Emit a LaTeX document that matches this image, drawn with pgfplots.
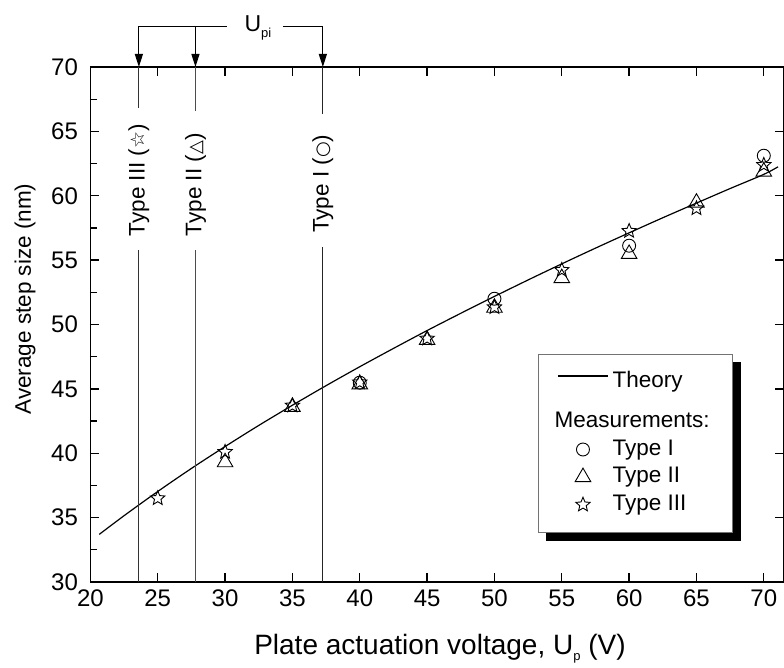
\documentclass[border=0pt]{standalone}
\usepackage{fontspec}
\setmainfont{Liberation Sans}
\newfontfamily\symfont{DejaVu Sans}
\usepackage{pgfplots}
\pgfplotsset{compat=1.18}
\usetikzlibrary{arrows.meta}
\pgfdeclarelayer{background}
\pgfsetlayers{background,main}

% open five-pointed star
\pgfdeclareplotmark{ostar}{%
  \pgfpathmoveto{\pgfpointpolar{90}{\pgfplotmarksize}}%
  \pgfpathlineto{\pgfpointpolar{126}{0.45\pgfplotmarksize}}%
  \pgfpathlineto{\pgfpointpolar{162}{\pgfplotmarksize}}%
  \pgfpathlineto{\pgfpointpolar{198}{0.45\pgfplotmarksize}}%
  \pgfpathlineto{\pgfpointpolar{234}{\pgfplotmarksize}}%
  \pgfpathlineto{\pgfpointpolar{270}{0.45\pgfplotmarksize}}%
  \pgfpathlineto{\pgfpointpolar{306}{\pgfplotmarksize}}%
  \pgfpathlineto{\pgfpointpolar{342}{0.45\pgfplotmarksize}}%
  \pgfpathlineto{\pgfpointpolar{18}{\pgfplotmarksize}}%
  \pgfpathlineto{\pgfpointpolar{54}{0.45\pgfplotmarksize}}%
  \pgfpathclose
  \pgfusepathqstroke
}

\newcommand{\lsub}[1]{\raisebox{-6pt}{\fontsize{13}{13}\selectfont #1}}

\begin{document}
\begin{tikzpicture}
\begin{axis}[
    scale only axis,
    width=693.6pt, height=515pt,
    xmin=20, xmax=71.5,
    ymin=30, ymax=70,
    xtick={20,25,...,70},
    ytick={30,35,...,70},
    extra y ticks={32.5,37.5,...,67.5},
    extra y tick labels={},
    extra y tick style={ytick pos=left, major tick length=7pt},
    tick align=inside,
    major tick length=9pt,
    axis line style={line width=1.6pt},
    tick style={line width=1.3pt, black},
    /pgf/number format/assume math mode=true,
    tick label style={font=\fontsize{24}{26}\selectfont},
    xticklabel style={yshift=-4pt},
    yticklabel style={xshift=-9pt},
    xlabel={Plate actuation voltage, U\lsub{p} (V)},
    ylabel={Average step size (nm)},
    every axis x label/.style={at={(axis description cs:0.504,-0.1417)}, anchor=base, font=\fontsize{28}{30}\selectfont},
    every axis y label/.style={at={(axis description cs:-0.0943,0.5495)}, rotate=90, anchor=center, font=\fontsize{22.5}{24}\selectfont},
    clip=false,
    legend image code/.code={\draw[mark repeat=2,mark phase=2,#1] plot coordinates {(0pt,0pt) (25pt,0pt) (50pt,0pt)};},
    legend style={at={(0.6453,0.4427)}, anchor=north west, name=leg,
        draw=black!55, line width=0.8pt, fill=white,
        font=\fontsize{22.5}{24}\selectfont,
        inner xsep=19pt, inner ysep=17pt,
        nodes={inner xsep=4pt, inner ysep=0pt, text height=16pt, text depth=5pt},
        row sep=6.6pt,
        cells={anchor=west}},
]
\addplot[black, line width=1.2pt, smooth,
    legend image code/.code={\draw[black, line width=1.2pt] (0pt,6pt) -- (50pt,6pt);}] coordinates {
    (20.66,33.70) (22.5,35.15) (25,37.03) (27.5,38.82) (30,40.52)
    (32.5,42.16) (35,43.73) (37.5,45.25) (40,46.72) (42.5,48.14)
    (45,49.53) (47.5,50.87) (50,52.18) (52.5,53.46) (55,54.71)
    (57.5,55.93) (60,57.12) (62.5,58.29) (65,59.43) (67.5,60.56)
    (70,61.66) (71.06,62.25)
};
\addlegendentry{Theory}
\addlegendimage{empty legend}
\addlegendentry[text height=28.4pt]{\hspace*{-58pt}Measurements:}
\addplot[only marks, mark=o, mark size=6.5pt, black, line width=0.9pt] coordinates {
    (40,45.48) (50,52.0) (60,56.12) (70,63.11)
};
\addlegendentry{Type I}
\addplot[only marks, mark=triangle, mark size=9pt, black, line width=0.9pt] coordinates {
    (30,39.3) (35,43.6) (40,45.35) (45,48.8) (50,51.3)
    (55,53.6) (60,55.48) (65,59.46) (70,61.87)
};
\addlegendentry{Type II}
\addplot[only marks, mark=ostar, mark size=7.5pt, black, line width=0.9pt] coordinates {
    (25,36.5) (30,40.1) (35,43.7) (40,45.5) (45,48.9) (50,51.34)
    (55,54.23) (60,57.26) (65,59.02) (70,62.39)
};
\addlegendentry{Type III}

% pull-in voltage markers
\draw[black!80, line width=1.2pt] (axis cs:23.6,30) -- (axis cs:23.6,55.8);
\draw[black!80, line width=1.2pt] (axis cs:23.6,66.8) -- (axis cs:23.6,70);
\draw[black!70, line width=1.2pt] (axis cs:27.8,30) -- (axis cs:27.8,55.8);
\draw[black!70, line width=1.2pt] (axis cs:27.8,66.6) -- (axis cs:27.8,70);
\draw[black!85, line width=1.2pt] (axis cs:37.26,30) -- (axis cs:37.26,56.04);
\draw[black!85, line width=1.2pt] (axis cs:37.26,66.35) -- (axis cs:37.26,70);
\node[rotate=90, anchor=west, inner sep=0pt, font=\fontsize{22.5}{24}\selectfont]
    at (axis cs:23.6,56.85) {Type III ({\symfont\fontsize{19}{19}\selectfont ☆})};
\node[rotate=90, anchor=west, inner sep=0pt, font=\fontsize{22.5}{24}\selectfont]
    at (axis cs:27.8,56.85) {Type II ({\symfont\fontsize{18}{18}\selectfont △})};
\node[rotate=90, anchor=west, inner sep=0pt, font=\fontsize{22.5}{24}\selectfont]
    at (axis cs:37.26,57.1) {Type I ({\symfont\fontsize{18}{18}\selectfont ○})};

% U_pi bracket
\draw[black, line width=1.2pt, -{Triangle[length=13pt,width=8pt]}]
    (axis cs:30.13,73.13) -- (axis cs:23.6,73.13) -- (axis cs:23.6,70);
\draw[black, line width=1.2pt, -{Triangle[length=13pt,width=8pt]}]
    (axis cs:27.8,73.13) -- (axis cs:27.8,70);
\draw[black, line width=1.2pt, -{Triangle[length=13pt,width=8pt]}]
    (axis cs:34.29,73.13) -- (axis cs:37.26,73.13) -- (axis cs:37.26,70);
\node[anchor=base west, inner sep=0pt, font=\fontsize{23}{24}\selectfont]
    at (axis cs:31.43,72.74) {U\lsub{pi}};
\end{axis}
% legend shadow
\begin{pgfonlayer}{background}
\fill[black] ([xshift=8pt,yshift=-8pt]leg.south west) rectangle ([xshift=8pt,yshift=-8pt]leg.north east);
\end{pgfonlayer}
\pgfresetboundingbox
\path (-90.4pt,-86pt) rectangle (693.6pt,582pt);
\end{tikzpicture}
\end{document}
